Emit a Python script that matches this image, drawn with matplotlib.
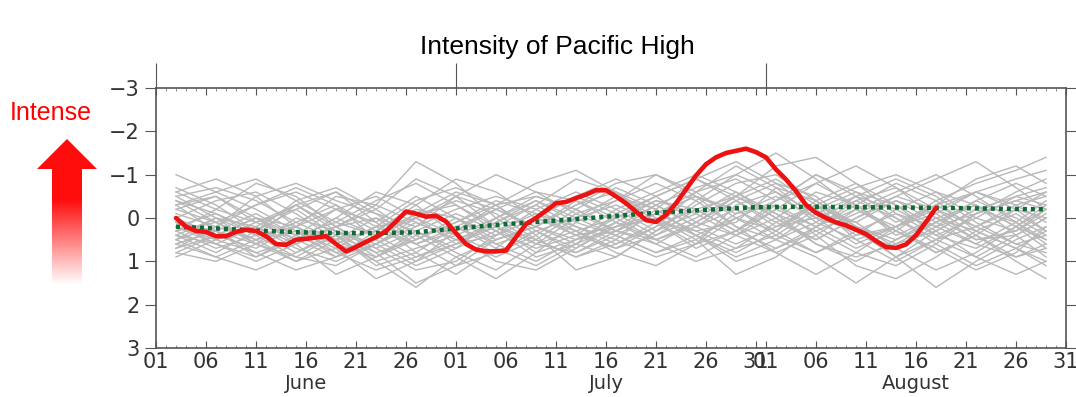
import numpy as np
import matplotlib
matplotlib.use("Agg")
import matplotlib.pyplot as plt
from matplotlib.patches import Polygon
from matplotlib.transforms import blended_transform_factory

# day index: 0 = June 1, 30 = July 1, 61 = August 1, 91 = August 31
month_names = ["June", "July", "August"]
month_starts = [0, 30, 61]
month_label_pos = [15, 45, 76]
june_ticks = [1, 6, 11, 16, 21, 26]
july_ticks = [1, 6, 11, 16, 21, 26, 31]
aug_ticks = [1, 6, 11, 16, 21, 26, 31]

# this year's index (June 3 .. August 18, daily)
red_start = 2
red_values = [
    0.0, 0.2, 0.3, 0.32, 0.42, 0.42, 0.32, 0.27, 0.3, 0.42, 0.6, 0.62, 0.5, 0.48,
    0.45, 0.42, 0.6, 0.77, 0.67, 0.55, 0.44, 0.3, 0.08, -0.15, -0.1, -0.03, -0.05, 0.08,
    0.35, 0.6, 0.73, 0.77, 0.77, 0.75, 0.44, 0.14, 0.0, -0.17, -0.34, -0.37, -0.46,
    -0.54, -0.64, -0.64, -0.5, -0.34, -0.15, 0.05, 0.09, -0.07, -0.34, -0.66, -0.98,
    -1.24, -1.4, -1.5, -1.55, -1.6, -1.52,
    -1.4, -1.12, -0.89, -0.62, -0.3, -0.12, 0.0, 0.1, 0.17, 0.27, 0.37, 0.53, 0.67,
    0.69, 0.61, 0.4, 0.09, -0.23,
]

# climatology
clim_days = [2, 6, 11, 16, 21, 26, 30, 35, 40, 45, 50, 55, 60, 65, 70, 75, 80, 85, 89]
clim_values = [0.2, 0.24, 0.3, 0.34, 0.35, 0.33, 0.24, 0.14, 0.06, -0.03, -0.12,
               -0.19, -0.25, -0.26, -0.25, -0.24, -0.23, -0.21, -0.2]

# past years (sampled every 4 days)
gray_days = [2, 6, 10, 14, 18, 22, 26, 30, 34, 38, 42, 46, 50, 54, 58, 62, 66, 70, 74, 78, 82, 86, 89]
gray_years = [
    [-1.0, -0.6, -0.2, 0.3, 0.6, 0.9, 0.5, 0.1, -0.3, -0.5, -0.2, 0.3, 0.5, 0.2, -0.4, -0.8, -0.5, 0.2, 0.6, 0.3, -0.2, -0.5, -0.3],
    [-0.5, -0.7, -0.4, 0.1, 0.5, 0.3, -0.3, -0.9, -0.6, 0.0, 0.4, 0.2, -0.3, -0.7, -1.0, -0.6, 0.1, 0.5, 0.2, -0.4, -0.8, -1.1, -1.4],
    [0.6, 0.9, 1.2, 0.8, 0.3, 0.7, 1.2, 1.0, 0.4, 0.0, 0.3, 0.7, 0.4, -0.2, -0.5, -0.1, 0.6, 1.0, 0.5, 0.0, 0.3, 0.7, 1.0],
    [0.3, -0.2, -0.8, -0.5, 0.2, 0.8, 1.5, 1.1, 0.5, 0.2, -0.3, -0.6, -0.2, 0.4, 0.8, 0.3, -0.4, -0.8, -0.3, 0.4, 0.7, 0.2, -0.2],
    [0.0, 0.4, 0.7, 0.2, -0.5, -0.3, -1.3, -0.8, 0.0, 0.6, 0.8, 0.4, -0.1, -0.5, -0.2, 0.3, 0.8, 0.4, -0.2, -0.6, -0.3, 0.2, 0.5],
    [0.9, 0.5, 0.1, -0.2, 0.4, 1.1, 0.8, 0.2, -0.2, -0.6, -0.4, 0.1, 0.6, 1.0, 0.7, 0.1, -0.3, 0.2, 0.9, 1.6, 1.0, 0.5, 0.2],
    [-0.4, 0.1, 0.6, 1.0, 0.7, 0.2, -0.4, -0.7, -0.3, 0.4, 1.2, 0.9, 0.3, -0.4, -1.0, -1.5, -0.9, -0.2, 0.2, -0.1, -0.6, -0.3, 0.1],
    [0.4, 0.8, 0.3, -0.4, -0.7, -0.2, 0.4, 0.9, 1.4, 0.8, 0.1, -0.4, -0.8, -0.4, 0.2, 0.5, 0.1, -0.5, -0.9, -0.5, 0.1, 0.6, 0.8],
    [-0.2, -0.5, 0.0, 0.6, 1.3, 0.9, 0.3, -0.1, 0.3, 0.7, 0.4, -0.2, -0.6, -1.0, -0.6, -0.1, 0.3, 0.8, 1.1, 0.6, -0.1, -0.6, -0.9],
    [0.7, 0.2, -0.3, -0.7, -0.3, 0.5, 1.0, 0.6, 0.1, -0.3, -0.9, -0.6, 0.0, 0.5, 1.3, 0.9, 0.2, -0.4, -0.7, -0.2, 0.4, 1.0, 1.4],
    [0.1, 0.6, 1.0, 0.6, 0.2, -0.2, -0.9, -0.5, 0.2, 0.8, 0.5, 0.0, -0.4, -0.2, 0.3, -0.2, -0.8, -1.2, -0.7, 0.0, 0.5, 0.3, -0.1],
    [-0.7, -0.3, 0.3, 0.8, 0.4, 1.0, 1.6, 0.9, 0.5, 0.2, 0.6, 0.9, 0.3, -0.3, -0.8, -1.0, -0.4, 0.3, 0.9, 0.5, -0.1, -0.4, -0.6],
    [0.5, 0.2, -0.5, -0.8, -0.4, -0.1, 0.2, -0.2, -0.5, -0.2, 0.3, 0.8, 1.1, 0.6, 0.0, -0.4, -1.0, -0.6, 0.0, 0.6, 1.1, 0.7, 0.3],
    [0.2, 0.5, 0.8, 1.2, 0.9, 0.4, 0.0, -0.4, -0.1, 0.5, 0.9, 0.5, -0.2, -0.9, -1.3, -0.8, -0.2, 0.4, 0.2, -0.3, -0.9, -1.2, -0.8],
    [-0.3, 0.3, 0.9, 0.5, 0.0, -0.6, -0.3, 0.4, 1.0, 1.2, 0.7, 0.1, -0.4, -0.1, 0.4, 0.8, 1.3, 0.8, 0.2, -0.2, 0.2, 0.6, 0.4],
    [0.8, 1.0, 0.6, 0.0, 0.3, 0.6, 0.2, -0.5, -1.0, -0.6, -0.1, -0.4, -1.0, -0.6, 0.0, 0.5, 0.9, 1.5, 0.9, 0.3, -0.2, 0.1, 0.5],
    [0.0, -0.4, -0.6, -0.1, 0.5, 1.0, 0.7, 0.4, 0.8, 0.4, -0.2, -0.7, -0.3, 0.2, 0.6, 0.2, -0.3, 0.1, 0.7, 1.2, 0.8, 0.2, -0.3],
    [-0.6, -0.9, -0.5, 0.2, 0.8, 0.5, -0.1, -0.3, 0.2, 0.6, 0.0, -0.5, -0.2, 0.4, 0.9, 0.5, -0.1, -0.5, -0.2, 0.3, 0.9, 1.3, 1.0],
    [0.5, 0.0, 0.4, 0.9, 1.1, 0.6, 0.1, 0.5, 0.9, 0.5, -0.1, 0.3, 0.6, 0.1, -0.5, -1.2, -1.4, -0.8, -0.1, 0.4, 0.0, -0.5, -0.7],
    [0.3, 0.7, 0.4, -0.3, -0.6, 0.1, 0.8, 1.3, 0.7, 0.0, -0.5, -0.9, -0.5, 0.1, 0.4, 0.0, -0.6, -0.3, 0.3, 0.8, 0.4, -0.2, 0.0],
    [-0.1, 0.2, 0.5, 0.3, 0.7, 1.4, 1.0, 0.3, -0.3, -0.8, -1.1, -0.6, 0.1, 0.7, 0.3, -0.3, 0.2, 0.7, 0.3, -0.3, -0.6, -0.9, -1.1],
    [0.6, 0.3, -0.1, 0.4, 0.1, -0.4, -0.8, -0.3, 0.3, 0.9, 0.6, 0.2, 0.0, 0.4, 1.0, 0.7, 0.2, -0.2, -0.6, -1.0, -0.5, 0.1, 0.6],
    [0.2, -0.1, 0.3, -0.2, -0.6, -0.1, 0.5, 0.1, -0.4, -0.1, 0.4, 0.7, 0.2, -0.6, -1.2, -0.7, 0.0, 0.3, -0.1, 0.2, 0.6, 0.9, 0.7],
    [-0.5, 0.0, 0.2, 0.7, 1.0, 0.6, 1.1, 0.7, 0.0, -0.4, 0.1, 0.4, 0.8, 0.5, -0.1, -0.3, 0.4, 1.1, 1.4, 0.9, 0.3, -0.1, 0.3],
    [0.4, 0.6, 0.9, 0.4, -0.2, -0.5, 0.0, 0.6, 0.4, -0.2, -0.6, -0.2, 0.3, -0.1, -0.6, 0.0, 0.5, 0.0, -0.5, -0.9, -1.3, -0.7, -0.2],
    [0.1, 0.4, 0.0, 0.5, 0.9, 0.3, -0.2, 0.0, 0.6, 1.0, 0.5, 0.3, -0.1, 0.3, 0.1, -0.7, -0.4, 0.2, 0.5, 0.1, -0.3, 0.4, 0.9],
    [-0.3, -0.6, -0.9, -0.4, 0.1, 0.4, 0.9, 0.5, 0.2, -0.3, 0.2, 0.5, 0.9, 0.6, -0.3, -0.6, -0.1, 0.1, -0.4, -0.1, 0.5, 0.4, 0.0],
    [0.3, 0.1, 0.5, 1.0, 0.5, 0.0, 0.3, 0.8, 1.2, 0.6, 0.3, 0.0, -0.5, -0.9, -0.4, 0.2, 0.0, -0.4, 0.0, 0.5, 0.2, -0.3, -0.5],
    [0.8, 0.4, 0.0, 0.4, 0.8, 1.2, 0.9, 0.6, 0.2, 0.5, 0.9, 0.6, 0.1, 0.3, 0.7, 0.4, -0.2, -0.6, -0.3, 0.2, -0.1, -0.4, -0.2],
    [-0.2, 0.1, -0.3, -0.6, -0.2, 0.3, 0.6, 0.2, 0.7, 1.1, 0.6, -0.1, -0.5, -0.9, -0.5, 0.0, 0.6, 0.9, 0.6, 0.1, -0.4, 0.0, 0.4],
    [0.4, 0.0, 0.6, 0.3, 0.9, 0.6, 0.0, -0.5, -0.2, 0.2, -0.3, -0.8, -1.0, -0.5, 0.2, 0.8, 0.4, -0.2, 0.3, 0.7, 1.2, 0.8, 0.2],
    [-0.6, -0.2, 0.1, -0.3, 0.2, 0.7, 0.3, 0.7, 0.3, -0.1, 0.2, 0.6, 0.2, -0.2, 0.3, -0.4, -1.0, -0.5, 0.1, -0.3, 0.2, -0.2, -0.6],
    [0.1, 0.3, 0.6, 0.9, 0.4, 0.8, 0.5, 0.0, 0.5, 0.2, -0.4, 0.0, 0.5, 0.9, 0.4, -0.2, 0.2, -0.3, -0.8, -0.4, 0.3, 0.7, 1.1],
    [0.5, 0.9, 0.5, 0.1, -0.3, 0.2, 0.6, 1.1, 0.8, 0.3, 0.8, 0.3, -0.3, 0.2, -0.2, 0.4, 0.8, 0.3, 0.7, 0.2, -0.4, -0.8, -0.5],
    [-0.4, -0.1, 0.4, 0.2, -0.2, 0.1, -0.5, 0.0, 0.4, 0.0, -0.5, -0.1, 0.4, 0.0, -0.5, -0.9, -0.3, 0.5, 1.0, 0.5, 0.9, 0.4, 0.0],
    [0.2, 0.6, 0.2, 0.6, 0.2, -0.3, 0.1, 0.5, 0.1, -0.4, 0.0, -0.3, 0.1, 0.6, 0.3, 0.7, 0.3, -0.1, -0.5, -0.2, -0.6, -0.2, 0.3],
    [0.6, 0.3, 0.8, 0.5, 0.0, 0.4, -0.1, -0.6, -0.3, 0.3, 0.0, 0.4, 0.8, 0.4, 0.0, 0.3, -0.3, -0.7, -1.0, -0.6, 0.0, 0.3, -0.2],
    [0.0, 0.5, 0.2, -0.3, 0.3, 0.9, 0.4, 0.2, 0.6, 0.3, 0.7, 0.2, -0.1, -0.5, -0.1, -0.5, 0.0, 0.6, 0.2, 0.8, 0.4, 0.9, 0.6],
    [-0.3, -0.5, 0.1, 0.5, 0.2, 0.0, 0.6, 0.3, -0.2, 0.2, 0.5, 0.1, 0.5, 0.1, -0.4, 0.1, 0.5, 0.0, -0.4, 0.1, 0.6, 0.1, -0.4],
    [0.7, 0.4, 0.0, 0.2, 0.6, 0.2, 0.0, 0.4, 0.0, -0.5, -0.2, 0.3, -0.1, -0.6, -0.9, -0.4, -0.8, -0.3, 0.4, 0.0, -0.3, 0.2, 0.7],
]

fig = plt.figure(figsize=(10.76, 3.97), dpi=100)
ax = fig.add_axes([156 / 1076, 49 / 397, 910 / 1076, 260 / 397])

for vals in gray_years:
    ax.plot(gray_days, vals, color="#b8b8b8", lw=1.0, zorder=1)

ax.plot(clim_days, clim_values, color="#0d6b35", lw=3.2, ls=(0, (0.9, 0.9)), zorder=3)

red_days = np.arange(red_start, red_start + len(red_values))
ax.plot(red_days, red_values, color="#ee1111", lw=3.3, zorder=4, solid_capstyle="round")

ax.set_xlim(0, 91)
ax.set_ylim(3, -3)

# x ticks
tick_pos, tick_lab = [], []
for start, days in zip(month_starts, [june_ticks, july_ticks, aug_ticks]):
    for d in days:
        tick_pos.append(start + d - 1)
        tick_lab.append(f"{d:02d}")
ax.set_xticks(tick_pos)
ax.set_xticklabels(tick_lab, fontsize=15, color="#333333")
ax.set_xticks(np.arange(0, 92), minor=True)
ax.tick_params(axis="x", which="major", direction="in", length=5, top=True, bottom=True,
               color="#555555", pad=3)
ax.tick_params(axis="x", which="minor", direction="in", length=2.5, top=True, bottom=True,
               color="#777777")

ax.set_yticks([-3, -2, -1, 0, 1, 2, 3])
ax.set_yticklabels(["\u22123", "\u22122", "\u22121", "0", "1", "2", "3"], fontsize=15, color="#333333")
ax.tick_params(axis="y", direction="out", length=8, left=True, right=True, color="#555555")

sec = ax.secondary_xaxis("top")
sec.set_xticks(month_starts)
sec.set_xticklabels([])
sec.tick_params(direction="out", length=18, color="#555555")
sec.spines["top"].set_visible(False)

for s in ax.spines.values():
    s.set_color("#555555")
    s.set_linewidth(1.2)

trans = blended_transform_factory(ax.transData, ax.transAxes)
for name, pos in zip(month_names, month_label_pos):
    ax.text(pos, -0.135, name, transform=trans, ha="center", va="center",
            fontsize=14, color="#333333")

fig.text(557 / 1076, 1 - 47 / 397, "Intensity of Pacific High", ha="center", va="center",
         fontsize=19, family=["Liberation Sans", "DejaVu Sans"])

# gradient arrow
ov = fig.add_axes([0, 0, 1, 1])
ov.set_xlim(0, 1076)
ov.set_ylim(397, 0)
ov.axis("off")
ov.text(51, 113, "Intense", color="#ff0000", ha="center", va="center", fontsize=18,
        family=["Liberation Sans", "DejaVu Sans"])
arrow = Polygon([(67, 139), (97, 169), (82, 169), (82, 285), (52, 285), (52, 169), (37, 169)],
                closed=True, facecolor="none", edgecolor="none")
ov.add_patch(arrow)
n = 200
alpha = np.clip((285 - np.linspace(139, 285, n)) / (285 - 200), 0, 1)
grad = np.zeros((n, 1, 4))
grad[:, 0, 0] = 1.0
grad[:, 0, 1] = 0.05
grad[:, 0, 2] = 0.05
grad[:, 0, 3] = alpha
im = ov.imshow(grad, extent=(37, 97, 285, 139), aspect="auto", origin="upper",
               interpolation="bilinear")
im.set_clip_path(arrow)

fig.savefig("out.png", dpi=100)
